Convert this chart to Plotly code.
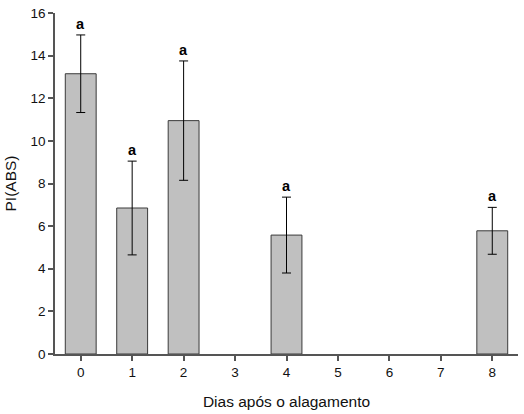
import plotly.graph_objects as go

days = [0, 1, 2, 4, 8]
pi_abs = [13.15, 6.85, 10.95, 5.58, 5.78]
err = [1.82, 2.2, 2.8, 1.78, 1.1]
letters = ["a", "a", "a", "a", "a"]
x_ticks = [0, 1, 2, 3, 4, 5, 6, 7, 8]
y_ticks = [0, 2, 4, 6, 8, 10, 12, 14, 16]

FONT = "Liberation Sans, Arial"

fig = go.Figure()
fig.add_trace(go.Bar(
    x=days, y=pi_abs, width=0.6,
    marker=dict(color="#c0c0c0", line=dict(color="#3a3a3a", width=1)),
    error_y=dict(type="data", array=err, visible=True, color="#000000",
                 thickness=1, width=4.5),
    showlegend=False,
))

for d, v, e, l in zip(days, pi_abs, err, letters):
    fig.add_annotation(x=d, y=v + e, text="<b>%s</b>" % l, showarrow=False,
                       yanchor="bottom", yshift=1,
                       font=dict(family=FONT, size=14.5, color="#000"))

axis_common = dict(showline=True, linecolor="#555555", linewidth=1.5,
                   ticks="outside", ticklen=5, tickcolor="#555555", tickwidth=1.5,
                   showgrid=False, zeroline=False,
                   tickfont=dict(family=FONT, size=13.5, color="#111"))

fig.update_xaxes(range=[-0.5, 8.5], tickvals=x_ticks, **axis_common,
                 title=dict(text="Dias após o alagamento", standoff=17,
                            font=dict(family=FONT, size=15.5, color="#111")))
fig.update_yaxes(range=[0, 16], tickvals=y_ticks, **axis_common,
                 title=dict(text="PI(ABS)", standoff=10,
                            font=dict(family=FONT, size=15.5, color="#111")))

# small extension of x axis line to the left like the original
fig.add_shape(type="line", xref="paper", yref="paper", x0=-5/463, x1=0, y0=0, y1=0,
              line=dict(color="#555555", width=1.5))

fig.update_layout(width=524, height=414, margin=dict(l=55, r=6, t=11, b=60),
                  plot_bgcolor="white", paper_bgcolor="white", bargap=0.4)

fig.write_html("out.html")
